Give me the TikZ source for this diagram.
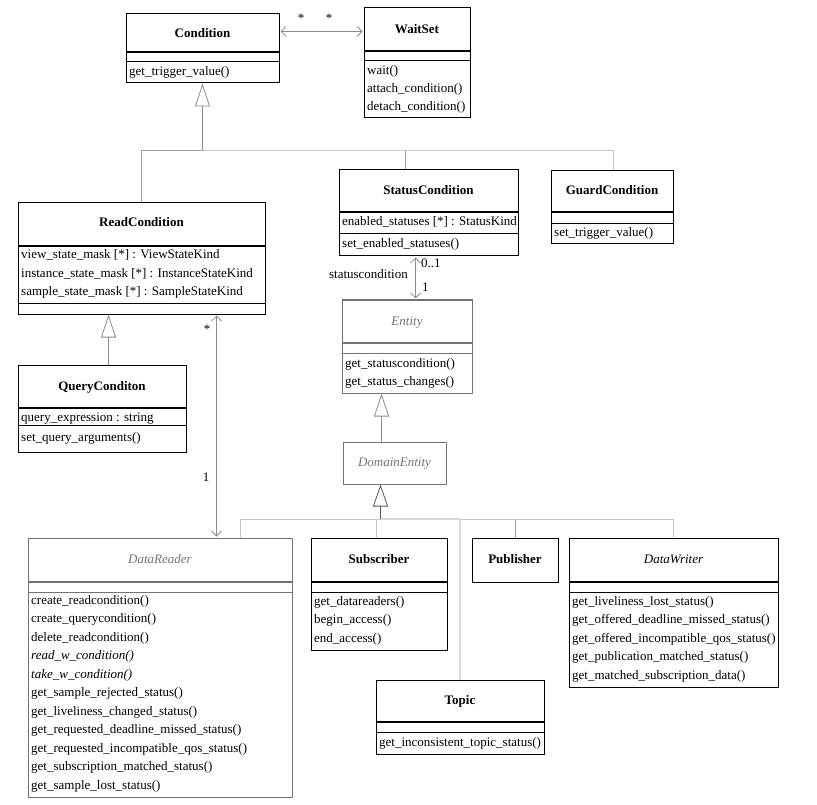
\documentclass[tikz,border=0pt]{standalone}
\usepackage{fontspec}
\setmainfont{Liberation Serif}
\usetikzlibrary{arrows.meta,fit,calc}
\newcommand\cbox[6][cls]{\node[#1, fit={(#3,#4) (#5,#6)}] (#2) {};}
\newcommand\csep[4][thicksep]{\draw[#1] (#2,#4) -- (#3,#4);}
\newcommand\oplines[5]{\foreach \t [count=\i] in {#5} {\node[op] (#1-\i) at (#2, {#3+(\i-1)*#4+4}) {\t};}}
\begin{document}
\begin{tikzpicture}[x=1pt,y=-1pt,
 cls/.style={draw=black, line width=1pt, inner sep=0pt},
 clsg/.style={cls, draw=black!55},
 thinsep/.style={line width=1pt},
 thicksep/.style={line width=1.8pt},
 gthinsep/.style={line width=1pt, draw=black!55},
 gthicksep/.style={line width=1.8pt, draw=black!55},
 nm/.style={font=\fontsize{13}{15}\selectfont\bfseries, anchor=base, inner sep=0pt},
 nmi/.style={font=\fontsize{13}{15}\selectfont\itshape, anchor=base, inner sep=0pt},
 nmg/.style={nmi, text=black!55},
 op/.style={font=\fontsize{13}{15}\selectfont, anchor=base west, inner sep=0pt},
 lbl/.style={font=\fontsize{13}{15}\selectfont, inner sep=0pt},
 assoc/.style={draw=black!45, line width=0.8pt, {Straight Barb[length=5pt,width=10pt]}-{Straight Barb[length=5pt,width=10pt]}},
 gen/.style={draw=black!45, line width=0.8pt, -{Triangle[length=23pt,width=15pt,fill=white]}},
 gendark/.style={draw=black!65, line width=0.8pt, -{Triangle[length=22pt,width=15pt,fill=white]}},
 busline/.style={draw=black!38, line width=0.8pt},
 buslight/.style={draw=black!22, line width=0.8pt},
 busthick/.style={draw=black!15, line width=2.5pt},
]
\fill[white] (0,0) rectangle (817,805);
\useasboundingbox (0,0) rectangle (817,805);

% ---------- Condition ----------
\cbox{cond}{126}{14}{279}{83}
\csep{126}{279}{52}\csep[thinsep]{126}{279}{62}
\node[nm] (cond-n) at (202.5,37.5) {Condition};
\oplines{cond}{129}{72}{18}{get\_trigger\_value()}

% ---------- WaitSet ----------
\cbox{ws}{364}{8}{470}{118}
\csep{364}{470}{51}\csep[thinsep]{364}{470}{61}
\node[nm] (ws-n) at (417,34) {WaitSet};
\oplines{ws}{367}{71}{18}{wait(),attach\_condition(),detach\_condition()}

% ---------- StatusCondition ----------
\cbox{sc}{339}{170}{518}{256}
\csep{339}{518}{212}\csep[thinsep]{339}{518}{234}
\node[nm] (sc-n) at (428.5,195) {StatusCondition};
\oplines{sca}{342}{222}{18}{enabled\_statuses [*] : StatusKind}
\oplines{sc}{342}{244}{18}{set\_enabled\_statuses()}

% ---------- GuardCondition ----------
\cbox{gc}{551}{171}{673}{244}
\csep{551}{673}{212}\csep[thinsep]{551}{673}{224}
\node[nm] (gc-n) at (612,195) {GuardCondition};
\oplines{gc}{554}{233}{18}{set\_trigger\_value()}

% ---------- ReadCondition ----------
\cbox{rc}{18}{203}{265}{314}
\csep{18}{265}{246}\csep[thinsep]{18}{265}{303}
\node[nm] (rc-n) at (141.5,227) {ReadCondition};
\oplines{rc}{21}{255}{18}{view\_state\_mask [*] : ViewStateKind,instance\_state\_mask [*] : InstanceStateKind,sample\_state\_mask [*] : SampleStateKind}

% ---------- QueryConditon ----------
\cbox{qc}{18}{365}{186}{452}
\csep{18}{186}{408}\csep[thinsep]{18}{186}{425}
\node[nm] (qc-n) at (102,390) {QueryConditon};
\oplines{qca}{21}{417}{18}{query\_expression : string}
\oplines{qc}{21}{437}{18}{set\_query\_arguments()}

% ---------- Entity ----------
\cbox[clsg]{ent}{342}{300}{472}{393}
\csep[gthicksep]{342}{472}{343}\csep[gthinsep]{342}{472}{353}
\node[nmg] (ent-n) at (407,325) {Entity};
\oplines{ent}{345}{363}{18}{get\_statuscondition(),get\_status\_changes()}

% ---------- DomainEntity ----------
\cbox[clsg]{de}{343}{442}{446}{484}
\node[nmg] (de-n) at (394.5,466) {DomainEntity};

% ---------- DataReader ----------
\cbox[clsg]{dr}{28}{538}{292}{797}
\csep[gthicksep]{28}{292}{582}\csep[gthinsep]{28}{292}{592}
\node[nmg] (dr-n) at (160,563) {DataReader};
\oplines{dr}{31}{600}{18.5}{create\_readcondition(),create\_querycondition(),delete\_readcondition(),{\itshape read\_w\_condition()},{\itshape take\_w\_condition()},get\_sample\_rejected\_status(),get\_liveliness\_changed\_status(),get\_requested\_deadline\_missed\_status(),get\_requested\_incompatible\_qos\_status(),get\_subscription\_matched\_status(),get\_sample\_lost\_status()}

% ---------- Subscriber ----------
\cbox{sub}{311}{538}{447}{650}
\csep{311}{447}{582}\csep[thinsep]{311}{447}{592}
\node[nm] (sub-n) at (379,563) {Subscriber};
\oplines{sub}{314}{601}{18.5}{get\_datareaders(),begin\_access(),end\_access()}

% ---------- Publisher ----------
\cbox{pub}{472}{538}{558}{582}
\node[nm] (pub-n) at (515,563) {Publisher};

% ---------- DataWriter ----------
\cbox{dw}{569}{538}{778}{687}
\csep{569}{778}{582}\csep[thinsep]{569}{778}{592}
\node[nmi] (dw-n) at (673.5,563) {DataWriter};
\oplines{dw}{572}{601}{18.5}{get\_liveliness\_lost\_status(),get\_offered\_deadline\_missed\_status(),get\_offered\_incompatible\_qos\_status(),get\_publication\_matched\_status(),get\_matched\_subscription\_data()}

% ---------- Topic ----------
\cbox{top}{376}{680}{544}{754}
\csep{376}{544}{722}\csep[thinsep]{376}{544}{732}
\node[nm] (top-n) at (460,704) {Topic};
\oplines{top}{379}{742}{18}{get\_inconsistent\_topic\_status()}

% ---------- Condition <-> WaitSet ----------
\draw[assoc] ($(cond.north east)+(1,18)$) -- ($(ws.north west)+(-1,24)$);
\node[lbl] (m1) at (301,18) {*};
\node[lbl] (m2) at (329,18) {*};

% ---------- Condition generalization ----------
\coordinate (cbus) at (0,150);
\draw[busline] (rc.north) |- (cond.south |- cbus);
\draw[busline] ($(sc.north west)+(67,0)$) |- (cond.south |- cbus);
\draw[buslight] ($(gc.north west)+(63,0)$) |- (cond.south |- cbus);
\draw[gen] (cond.south |- cbus) -- (cond.south);

% ---------- QueryConditon -> ReadCondition ----------
\draw[gen] ($(qc.north west)+(91,0)$) -- ($(rc.south west)+(91,0)$);

% ---------- ReadCondition <-> DataReader ----------
\draw[assoc] ($(rc.south west)+(199,1)$) -- ($(dr.north west)+(189,-1)$);
\node[lbl] (m3) at (207,329) {*};
\node[lbl] (m4) at (206,477) {1};

% ---------- StatusCondition <-> Entity ----------
\draw[assoc] ($(sc.south west)+(77,1)$) -- ($(ent.north west)+(74,-1)$);
\node[lbl, anchor=west] (m5) at (421,263) {0..1};
\node[lbl, anchor=east] (m6) at (408,274) {statuscondition};
\node[lbl, anchor=west] (m7) at (422,287) {1};

% ---------- Entity <- DomainEntity ----------
\draw[gen] ($(de.north west)+(39,0)$) -- ($(ent.south west)+(40,0)$);

% ---------- DomainEntity generalization ----------
\coordinate (dbus) at (0,519);
\coordinate (detip) at ($(de.south west)+(38,0)$);
\draw[buslight] ($(dr.north west)+(213,0)$) |- (detip |- dbus);
\draw[buslight] ($(sub.north west)+(66,0)$) |- (detip |- dbus);
\draw[busline] (pub.north) |- (detip |- dbus);
\draw[buslight] (dw.north) |- (detip |- dbus);
\draw[busthick] (top.north) |- (detip |- dbus);
\draw[gendark] (detip |- dbus) -- (detip);
\end{tikzpicture}
\end{document}
